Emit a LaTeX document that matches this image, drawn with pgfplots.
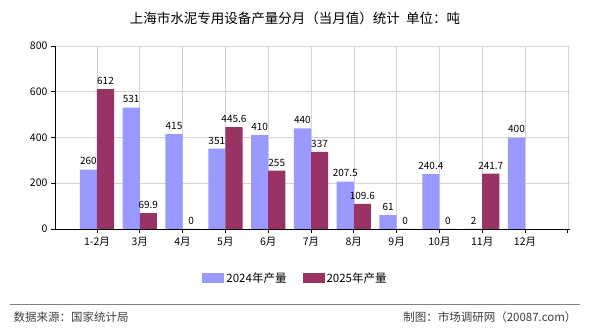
\documentclass[border=0pt]{standalone}
\usepackage{pgfplots}
\pgfplotsset{compat=1.18}
\usepackage{fontspec}
\setmainfont{Noto Sans CJK SC}
\definecolor{c24}{HTML}{9999FF}
\definecolor{c25}{HTML}{993366}
\definecolor{gridc}{HTML}{D4D4D4}
\begin{document}
\begin{tikzpicture}
\path[use as bounding box] (0pt,0pt) rectangle (590pt,330pt);
\node[font=\fontsize{13.5}{14}\selectfont] at (295pt,312pt) {上海市水泥专用设备产量分月（当月值）统计\ \ 单位：吨};
\begin{axis}[
  at={(55pt,101pt)}, anchor=south west,
  scale only axis, width=515pt, height=183pt,
  xmin=-0.98, xmax=11.05, ymin=0, ymax=800,
  xtick={0,...,11},
  xticklabels={1-2月,3月,4月,5月,6月,7月,8月,9月,10月,11月,12月,},
  ytick={0,200,400,600,800},
  axis x line=bottom, axis y line=left, axis line style={-, black, line width=0.8pt},
  tick align=outside, major tick length=4pt,
  tick style={black, line width=0.8pt},
  grid=major, major grid style={gridc, line width=0.6pt},
  /pgf/number format/assume math mode=true,
  ticklabel style={font=\fontsize{10.5}{11}\selectfont},
  xticklabel style={yshift=-1pt},
  ybar, bar width=0.4,
  nodes near coords, point meta=explicit symbolic,
  every node near coord/.append style={font=\fontsize{10}{11}\selectfont, black, yshift=1pt},
  legend style={at={(0.467,-0.268)}, anchor=center, draw=none, legend columns=2,
    font=\fontsize{11.5}{12}\selectfont, /tikz/every even column/.append style={column sep=14pt}},
  legend image code/.code={\fill[#1] (0pt,-5pt) rectangle (22pt,5pt);},
  clip=false,
]
\addplot[fill=c24, draw=none, bar shift=-0.2] table[meta=l] {
x y l
0 260 260
1 531 531
2 415 415
3 351 351
4 410 410
5 440 440
6 207.5 207.5
7 61 61
8 240.4 240.4
9 2 2
10 400 400
};
\addlegendentry{2024年产量}
\addplot[fill=c25, draw=none, bar shift=0.2] table[meta=l] {
x y l
0 612 612
1 69.9 69.9
2 0 0
3 445.6 445.6
4 255 255
5 337 337
6 109.6 109.6
7 0 0
8 0 0
9 241.7 241.7
};
\addlegendentry{2025年产量}
\end{axis}
\draw[gray, line width=0.9pt] (10pt,26pt) -- (580pt,26pt);
\node[anchor=west, font=\fontsize{11.5}{12}\selectfont, text=black!75] at (10pt,13pt) {数据来源：国家统计局};
\node[anchor=east, font=\fontsize{11.5}{12}\selectfont, text=black!75] at (580pt,13pt) {制图：市场调研网（20087.com）};
\end{tikzpicture}
\end{document}
